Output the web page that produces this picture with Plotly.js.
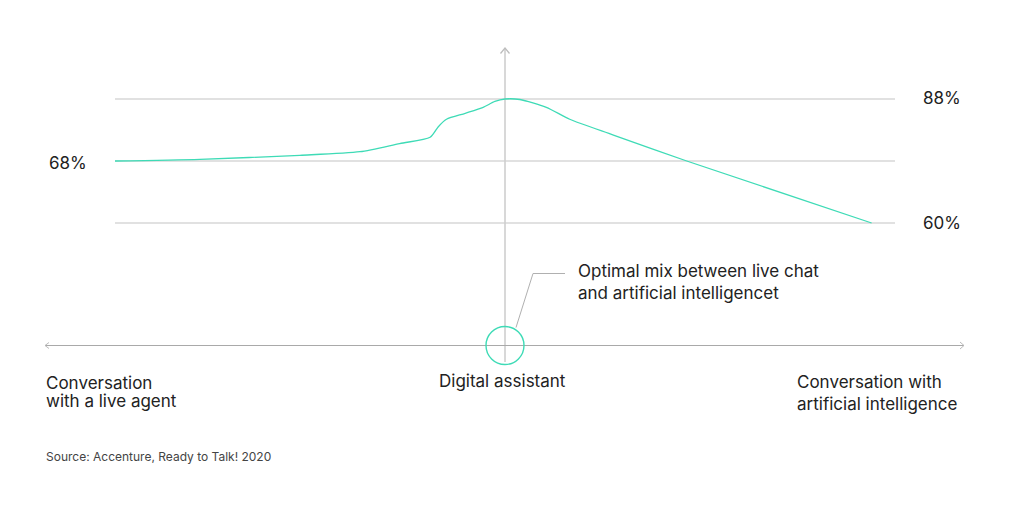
<!DOCTYPE html>
<html>
<head>
<meta charset="utf-8">
<script src="https://cdn.plot.ly/plotly-3.0.1.min.js"></script>
<style>html,body{margin:0;padding:0;background:#fff;}#chart{width:1010px;height:505px;}</style>
</head>
<body>
<div id="chart"></div>
<script>
// ---- data ----
// x: 0 = conversation with a live agent, 0.5 = digital assistant, 1 = conversation with AI
const curveX = [0, 0.109, 0.237, 0.314, 0.365, 0.404, 0.4145, 0.425, 0.449, 0.472, 0.487, 0.5, 0.519, 0.553, 0.583, 0.639, 0.733, 0.97];
// level: gridline index (0 = 60%, 1 = 68%, 2 = 88%) — the chart is not drawn to scale
const curveLevel = [1.0, 1.027, 1.092, 1.15, 1.282, 1.382, 1.553, 1.673, 1.769, 1.866, 1.96, 2.0, 1.992, 1.866, 1.673, 1.419, 1.0, 0.0];
const gridLevels = [0, 1, 2];
const gridLabels = ['60%', '68%', '88%'];
const gridLabelSide = ['right', 'left', 'right'];
const leftLabelLines = ['Conversation', 'with a live agent'];
const centerLabel = 'Digital assistant';
const rightLabelLines = ['Conversation with', 'artificial intelligence'];
const calloutLines = ['Optimal mix between live chat', 'and artificial intelligencet'];
const sourceText = 'Source: Accenture, Ready to Talk! 2020';

// ---- geometry helpers (figure is 1010x505, plot area = full figure) ----
const W = 1010, H = 505;
const X0 = 115, XS = 780;     // px of x=0, px per unit
const Y0 = 223, YS = 62;      // px of level 0, px per level
const xr = [(0 - X0) / XS, (W - X0) / XS];
const yr = [(Y0 - H) / YS, (Y0 - 0) / YS];
const pxX = px => (px - X0) / XS;
const pxY = py => (Y0 - py) / YS;

const teal = '#3edbb6';
const gridCol = '#c4c4c4';
const axisCol = '#a9a9a9';
const font = 'Inter, "Liberation Sans", Arial, sans-serif';
const txt = {family: font, size: 17, color: '#222'};

const traces = [{
  x: curveX, y: curveLevel, type: 'scatter', mode: 'lines',
  line: {color: teal, width: 1.3, shape: 'spline', smoothing: 0.7},
  hoverinfo: 'skip'
}];

const shapes = [];
gridLevels.forEach(l => shapes.push({type: 'line', xref: 'x', yref: 'y', x0: 0, x1: 1, y0: l, y1: l,
  line: {color: gridCol, width: 1.2}, layer: 'below'}));
// vertical axis at digital assistant
shapes.push({type: 'line', xref: 'x', yref: 'y', x0: 0.5, x1: 0.5, y0: pxY(362), y1: pxY(48),
  line: {color: '#cfcfcf', width: 1.6}, layer: 'below'});
shapes.push({type: 'path', xref: 'x', yref: 'y', xsizemode: 'pixel', ysizemode: 'pixel', xanchor: 0.5, yanchor: pxY(48),
  path: 'M-4.5,-5.5 L0,0 L4.5,-5.5', line: {color: '#bdbdbd', width: 1.3}});
// horizontal axis
shapes.push({type: 'line', xref: 'x', yref: 'y', x0: pxX(45), x1: pxX(964), y0: pxY(345.5), y1: pxY(345.5),
  line: {color: axisCol, width: 1}, layer: 'below'});
shapes.push({type: 'path', xref: 'x', yref: 'y', xsizemode: 'pixel', ysizemode: 'pixel', xanchor: pxX(45), yanchor: pxY(345.5),
  path: 'M4,3 L0,0 L4,-3', line: {color: '#bbbbbb', width: 1}});
shapes.push({type: 'path', xref: 'x', yref: 'y', xsizemode: 'pixel', ysizemode: 'pixel', xanchor: pxX(964), yanchor: pxY(345.5),
  path: 'M-4,3.5 L0,0 L-4,-3.5', line: {color: '#bbbbbb', width: 1}});
// circle marker at digital assistant
shapes.push({type: 'circle', xref: 'x', yref: 'y', xsizemode: 'pixel', ysizemode: 'pixel', xanchor: 0.5, yanchor: pxY(345.5),
  x0: -19, x1: 19, y0: -19, y1: 19, line: {color: teal, width: 1.4}});
// callout leader
shapes.push({type: 'path', xref: 'x', yref: 'y', xsizemode: 'pixel', ysizemode: 'pixel', xanchor: 0.5, yanchor: pxY(345.5),
  path: 'M11,18 L28,72 L60,72', line: {color: '#b0b0b0', width: 1}});

const annotations = [];
const gridLabelCenter = [223.3, 163.3, 98.3];
gridLevels.forEach((l, i) => annotations.push({
  xref: 'paper', yref: 'paper', x: gridLabelSide[i] === 'left' ? 47 / W : 921 / W, y: 1 - gridLabelCenter[i] / H,
  xanchor: 'left', yanchor: 'middle', showarrow: false, text: gridLabels[i], font: txt
}));
function line(text, px, py, anchor, f) {
  annotations.push({xref: 'paper', yref: 'paper', x: px / W, y: 1 - py / H, xanchor: anchor || 'left', yanchor: 'middle',
    showarrow: false, text: text, font: f || txt});
}
const leftY = [383.3, 400.8];
leftLabelLines.forEach((t, i) => line(t, 44, leftY[i]));
line(centerLabel, 502.5, 381.3, 'center');
const rightY = [382, 403.8];
rightLabelLines.forEach((t, i) => line(t, 795, rightY[i]));
const calloutY = [271.2, 293];
calloutLines.forEach((t, i) => line(t, 576, calloutY[i]));
line(sourceText, 44, 456.5, 'left', {family: font, size: 12, color: '#444'});

const layout = {
  width: W, height: H, autosize: false,
  margin: {l: 0, r: 0, t: 0, b: 0, pad: 0},
  paper_bgcolor: '#fff', plot_bgcolor: '#fff',
  showlegend: false,
  xaxis: {range: xr, visible: false, fixedrange: true},
  yaxis: {range: yr, visible: false, fixedrange: true},
  shapes: shapes, annotations: annotations,
  font: {family: font}
};
Plotly.newPlot('chart', traces, layout, {displayModeBar: false, staticPlot: true});
</script>
</body>
</html>
